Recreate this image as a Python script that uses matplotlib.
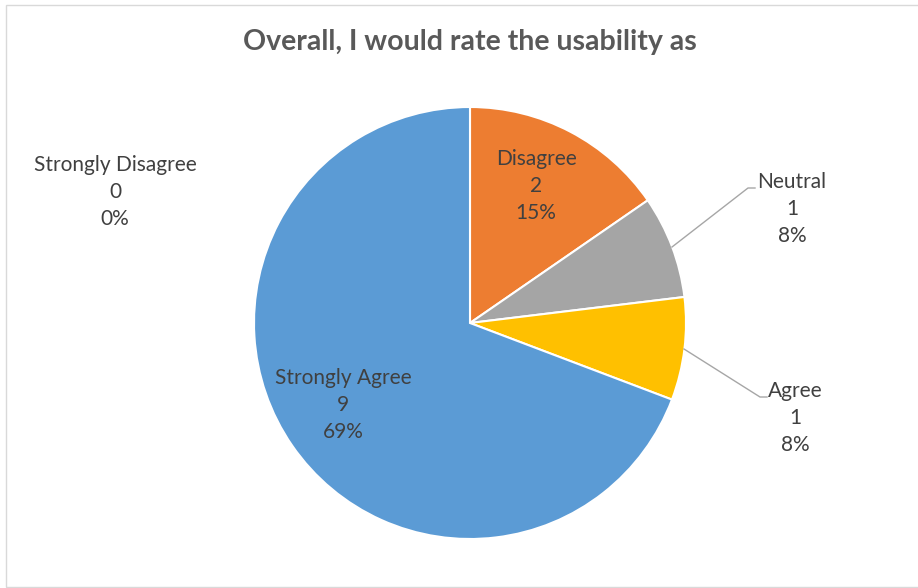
import matplotlib
matplotlib.use("Agg")
import matplotlib.pyplot as plt
from matplotlib.patches import Rectangle

title = "Overall, I would rate the usability as"
categories = ["Strongly Disagree", "Disagree", "Neutral", "Agree", "Strongly Agree"]
counts = [0, 2, 1, 1, 9]
colors = ["#5B9BD5", "#ED7D31", "#A5A5A5", "#FFC000", "#5B9BD5"]

# label centre (middle line) positions, in pixels of the 918x588 image
label_px = [(115, 192), (536, 186), (792, 209), (795, 418), (343, 405)]
# leader lines for the outside labels (slice point -> elbow -> end)
leaders_px = {2: [(672, 247), (748, 188), (755, 188)],
              3: [(684, 349), (760, 397), (767, 397)]}

W, H = 918, 588
cx, cy, R = 470, 323, 216

def to_data(px, py):
    return (px - cx) / R, (cy - py) / R

plt.rcParams['font.family'] = ['Lato', 'DejaVu Sans']

fig = plt.figure(figsize=(W / 100, H / 100), dpi=100)
ax = fig.add_axes([0, 0, 1, 1])
ax.pie(counts, colors=colors, startangle=90, counterclock=False, radius=1,
       wedgeprops=dict(edgecolor="white", linewidth=1.5))
ax.set_xlim(-cx / R, (W - cx) / R)
ax.set_ylim((cy - H) / R, cy / R)
ax.set_aspect('equal')
ax.axis('off')

total = sum(counts)
for i, (name, n) in enumerate(zip(categories, counts)):
    x, y = to_data(*label_px[i])
    pct = round(100 * n / total)
    ax.text(x, y, f"{name}\n{n}\n{pct}%", ha='center', va='center',
            fontsize=15, color='#404040', linespacing=1.42)

for pts in leaders_px.values():
    xs, ys = zip(*[to_data(*p) for p in pts])
    ax.plot(xs, ys, color='#A6A6A6', linewidth=1)

fig.text(470 / W, 1 - 42 / H, title, ha='center', va='center',
         fontsize=20.5, fontweight='bold', color='#595959')

fig.patches.append(Rectangle((6 / W, 1 / H), 1, 1 - 6 / H, transform=fig.transFigure,
                             fill=False, edgecolor='#D9D9D9', linewidth=1))

fig.savefig("out.png", dpi=100)
